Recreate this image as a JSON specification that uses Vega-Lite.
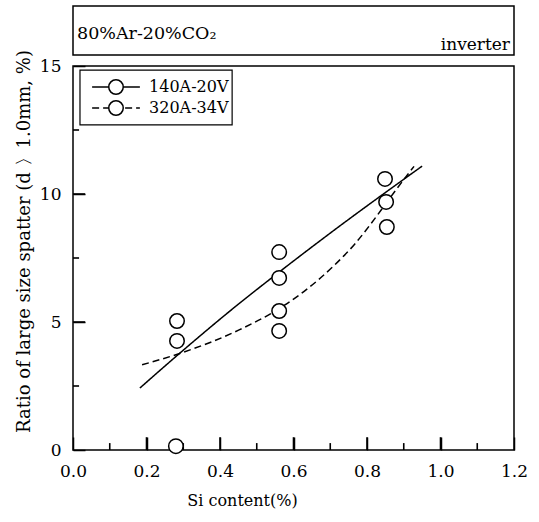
{
  "$schema": "https://vega.github.io/schema/vega-lite/v6.json",
  "background": "white",
  "padding": {"left": 14, "top": 5, "right": 5, "bottom": 5},
  "bounds": "flush",
  "spacing": 11,
  "config": {
    "view": {"stroke": "black", "strokeWidth": 1.5},
    "font": "DejaVu Serif",
    "axis": {"labelFont": "DejaVu Serif", "titleFont": "DejaVu Serif", "labelColor": "black", "titleColor": "black", "tickColor": "black", "tickWidth": 1.5, "grid": false, "domain": false, "titleFontWeight": "normal", "labelFontSize": 17, "titleFontSize": 16}
  },
  "datasets": {
    "curves": [
      {"series": "140A-20V", "x": 0.182, "y": 2.42},
      {"series": "140A-20V", "x": 0.288, "y": 3.75},
      {"series": "140A-20V", "x": 0.446, "y": 5.65},
      {"series": "140A-20V", "x": 0.561, "y": 6.95},
      {"series": "140A-20V", "x": 0.71, "y": 8.58},
      {"series": "140A-20V", "x": 0.95, "y": 11.09},
      {"series": "320A-34V", "x": 0.188, "y": 3.33},
      {"series": "320A-34V", "x": 0.288, "y": 3.76},
      {"series": "320A-34V", "x": 0.452, "y": 4.69},
      {"series": "320A-34V", "x": 0.555, "y": 5.47},
      {"series": "320A-34V", "x": 0.629, "y": 6.2},
      {"series": "320A-34V", "x": 0.71, "y": 7.2},
      {"series": "320A-34V", "x": 0.767, "y": 8.05},
      {"series": "320A-34V", "x": 0.827, "y": 9.15},
      {"series": "320A-34V", "x": 0.873, "y": 10.05},
      {"series": "320A-34V", "x": 0.928, "y": 11.08}
    ],
    "points": [
      {"x": 0.283, "y": 5.04},
      {"x": 0.283, "y": 4.26},
      {"x": 0.28, "y": 0.15},
      {"x": 0.561, "y": 7.73},
      {"x": 0.561, "y": 6.72},
      {"x": 0.561, "y": 5.43},
      {"x": 0.561, "y": 4.65},
      {"x": 0.849, "y": 10.59},
      {"x": 0.852, "y": 9.69},
      {"x": 0.854, "y": 8.71}
    ],
    "xMajor": [{"x": 0.2}, {"x": 0.4}, {"x": 0.6}, {"x": 0.8}, {"x": 1.0}],
    "xMinor": [{"x": 0.1}, {"x": 0.3}, {"x": 0.5}, {"x": 0.7}, {"x": 0.9}, {"x": 1.1}],
    "yMajor": [{"y": 5}, {"y": 10}],
    "yMinor": [{"y": 2.5}, {"y": 7.5}, {"y": 12.5}],
    "legendEntries": [
      {"series": "140A-20V"},
      {"series": "320A-34V"}
    ],
    "header": [
      {"label": "80%Ar-20%CO₂", "pos": "left"},
      {"label": "inverter", "pos": "right"}
    ]
  },
  "vconcat": [
    {
      "width": 441,
      "height": 49,
      "data": {"name": "header"},
      "layer": [
        {
          "transform": [{"filter": "datum.pos == 'left'"}],
          "mark": {"type": "text", "align": "left", "baseline": "alphabetic", "dx": 4, "dy": 8, "fontSize": 17.5, "font": "DejaVu Serif", "color": "black"},
          "encoding": {
            "x": {"field": "pos", "type": "nominal", "scale": {"type": "point", "domain": ["left", "right"], "padding": 0}, "axis": null},
            "text": {"field": "label"}
          }
        },
        {
          "transform": [{"filter": "datum.pos == 'right'"}],
          "mark": {"type": "text", "align": "right", "baseline": "alphabetic", "dx": -4, "dy": 19, "fontSize": 17, "font": "DejaVu Serif", "color": "black"},
          "encoding": {
            "x": {"field": "pos", "type": "nominal", "scale": {"type": "point", "domain": ["left", "right"], "padding": 0}, "axis": null},
            "text": {"field": "label"}
          }
        }
      ]
    },
    {
      "width": 441,
      "height": 384,
      "layer": [
        {
          "data": {"name": "xMajor"},
          "mark": {"type": "rule", "color": "black", "strokeWidth": 1.6, "opacity": 1},
          "encoding": {
            "x": {"field": "x", "type": "quantitative", "scale": {"domain": [0, 1.2], "nice": false},
              "axis": {"title": "Si content(%)", "orient": "bottom", "values": [0, 0.2, 0.4, 0.6, 0.8, 1.0, 1.2], "format": ".1f",
                "offset": -13, "tickSize": 13, "labelPadding": 13, "labelOverlap": false, "labelFlush": false, "titlePadding": 13, "titleX": 169}},
            "y": {"datum": 0, "scale": {"domain": [0, 15], "nice": false},
              "axis": {"title": "Ratio of large size spatter (d 〉1.0mm, %)", "titleFontSize": 18, "orient": "left", "values": [0, 5, 10, 15], "format": "d",
                "offset": -12, "tickSize": 12, "labelPadding": 12, "labelOverlap": false, "labelFlush": false, "titlePadding": 6, "titleY": 175}},
            "y2": {"datum": 0.5}
          }
        },
        {
          "data": {"name": "xMinor"},
          "mark": {"type": "rule", "color": "black", "strokeWidth": 1.6, "opacity": 1},
          "encoding": {"x": {"field": "x", "type": "quantitative"}, "y": {"datum": 0}, "y2": {"datum": 0.27}}
        },
        {
          "data": {"name": "yMajor"},
          "mark": {"type": "rule", "color": "black", "strokeWidth": 1.6, "opacity": 1},
          "encoding": {"y": {"field": "y", "type": "quantitative"}, "x": {"datum": 0}, "x2": {"datum": 0.033}}
        },
        {
          "data": {"name": "yMinor"},
          "mark": {"type": "rule", "color": "black", "strokeWidth": 1.6, "opacity": 1},
          "encoding": {"y": {"field": "y", "type": "quantitative"}, "x": {"datum": 0}, "x2": {"datum": 0.0165}}
        },
        {
          "data": {"name": "curves"},
          "mark": {"type": "line", "interpolate": "monotone", "color": "black", "strokeWidth": 1.5},
          "encoding": {
            "x": {"field": "x", "type": "quantitative"},
            "y": {"field": "y", "type": "quantitative"},
            "detail": {"field": "series"},
            "strokeDash": {"field": "series", "type": "nominal", "scale": {"domain": ["140A-20V", "320A-34V"], "range": [[1, 0], [7, 4]]}, "legend": null}
          }
        },
        {
          "data": {"name": "points"},
          "mark": {"type": "point", "shape": "circle", "filled": false, "fill": "white", "fillOpacity": 1, "stroke": "black", "strokeWidth": 1.5, "size": 210, "opacity": 1},
          "encoding": {"x": {"field": "x", "type": "quantitative"}, "y": {"field": "y", "type": "quantitative"}}
        },
        {
          "data": {"values": [{"box": "legend"}]},
          "mark": {"type": "rect", "fill": "white", "stroke": "black", "strokeWidth": 1.2},
          "encoding": {"x": {"datum": 0.019}, "x2": {"datum": 0.433}, "y": {"datum": 14.84}, "y2": {"datum": 12.7}}
        },
        {
          "data": {"name": "legendEntries"},
          "transform": [{"filter": "datum.series == '140A-20V'"}],
          "layer": [
            {"mark": {"type": "rule", "color": "black", "strokeWidth": 1.5},
             "encoding": {"x": {"datum": 0.052}, "x2": {"datum": 0.182}, "y": {"datum": 14.18},
               "strokeDash": {"field": "series", "type": "nominal", "legend": null}}},
            {"mark": {"type": "point", "shape": "circle", "filled": false, "fill": "white", "fillOpacity": 1, "stroke": "black", "strokeWidth": 1.5, "size": 210},
             "encoding": {"x": {"datum": 0.117}, "y": {"datum": 14.18}}},
            {"mark": {"type": "text", "align": "left", "baseline": "middle", "fontSize": 16, "font": "DejaVu Serif", "color": "black"},
             "encoding": {"x": {"datum": 0.207}, "y": {"datum": 14.18}, "text": {"field": "series"}}}
          ]
        },
        {
          "data": {"name": "legendEntries"},
          "transform": [{"filter": "datum.series == '320A-34V'"}],
          "layer": [
            {"mark": {"type": "rule", "color": "black", "strokeWidth": 1.5},
             "encoding": {"x": {"datum": 0.052}, "x2": {"datum": 0.182}, "y": {"datum": 13.36},
               "strokeDash": {"field": "series", "type": "nominal", "legend": null}}},
            {"mark": {"type": "point", "shape": "circle", "filled": false, "fill": "white", "fillOpacity": 1, "stroke": "black", "strokeWidth": 1.5, "size": 210},
             "encoding": {"x": {"datum": 0.117}, "y": {"datum": 13.36}}},
            {"mark": {"type": "text", "align": "left", "baseline": "middle", "fontSize": 16, "font": "DejaVu Serif", "color": "black"},
             "encoding": {"x": {"datum": 0.207}, "y": {"datum": 13.36}, "text": {"field": "series"}}}
          ]
        }
      ]
    }
  ]
}
